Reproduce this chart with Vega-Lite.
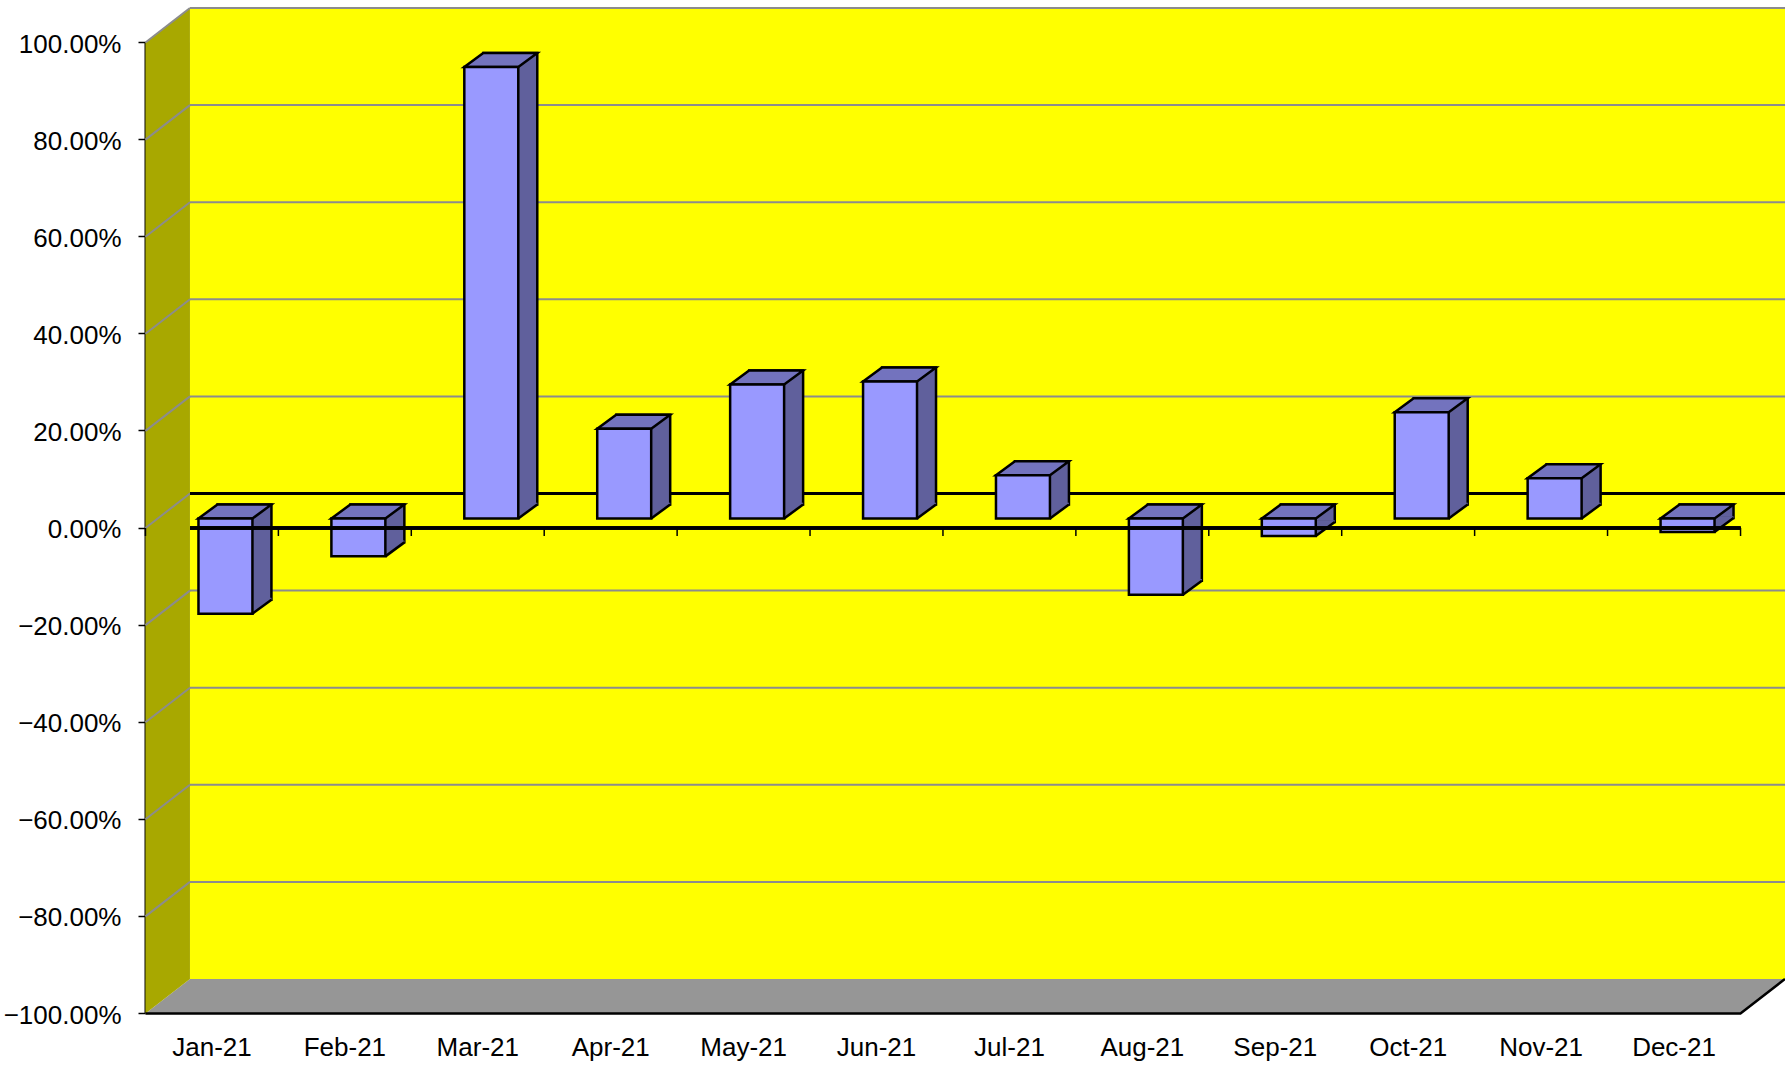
{
  "$schema": "https://vega.github.io/schema/vega-lite/v6.json",
  "autosize": {"type": "none"},
  "padding": {"left": 190, "top": 8, "right": 0, "bottom": 86},
  "width": 1595,
  "height": 971,
  "background": "#FFFFFF",
  "config": {
    "view": {"fill": "#FFFF00", "stroke": null},
    "axis": {"grid": false, "labelFont": "Liberation Sans", "labelFontSize": 26, "labelColor": "#000000", "labelOverlap": false},
    "axisX": {"domain": false, "ticks": false, "tickSize": 0, "labelPadding": 55, "labelOffset": -44.5, "labelAngle": 0, "labelBound": false},
    "axisY": {"offset": 79, "translate": 34.5, "tickSize": 7, "tickColor": "#000000", "tickWidth": 1.5, "domainColor": "#000000", "domainWidth": 2, "labelPadding": 17, "labelOffset": 2}
  },
  "datasets": {
    "returns": [
      {"month": "Jan-21", "value": -0.196},
      {"month": "Feb-21", "value": -0.078},
      {"month": "Mar-21", "value": 0.930},
      {"month": "Apr-21", "value": 0.185},
      {"month": "May-21", "value": 0.276},
      {"month": "Jun-21", "value": 0.282},
      {"month": "Jul-21", "value": 0.089},
      {"month": "Aug-21", "value": -0.157},
      {"month": "Sep-21", "value": -0.036},
      {"month": "Oct-21", "value": 0.219},
      {"month": "Nov-21", "value": 0.083},
      {"month": "Dec-21", "value": -0.028}
    ],
    "grid": [
      {"t": -0.8}, {"t": -0.6}, {"t": -0.4}, {"t": -0.2}, {"t": 0},
      {"t": 0.2}, {"t": 0.4}, {"t": 0.6}, {"t": 0.8}, {"t": 1}
    ]
  },
  "data": {"name": "returns"},
  "layer": [
    {
      "mark": {"type": "bar", "fill": "#9999FF", "stroke": "#000000", "strokeWidth": 2.5, "xOffset": -31, "x2Offset": -31, "yOffset": 25, "y2Offset": 25, "opacity": 0},
      "encoding": {
        "x": {
          "field": "month", "type": "nominal", "title": null,
          "scale": {"type": "band", "domain": ["Jan-21","Feb-21","Mar-21","Apr-21","May-21","Jun-21","Jul-21","Aug-21","Sep-21","Oct-21","Nov-21","Dec-21"], "paddingInner": 0.594, "paddingOuter": 0.297}
        },
        "y": {
          "field": "value", "type": "quantitative", "title": null,
          "scale": {"domain": [-1, 1], "nice": false, "zero": false},
          "axis": {"values": [-1, -0.8, -0.6, -0.4, -0.2, 0, 0.2, 0.4, 0.6, 0.8, 1], "format": ".2%"}
        },
        "y2": {"datum": 0}
      }
    },
    {
      "transform": [{"filter": "datum.month == 'Jan-21'"}],
      "mark": {"type": "point", "shape": "M-66.5,0L1528.5,0L1484,34.5L-111,34.5Z", "size": 4, "filled": true, "fill": "#969696", "strokeWidth": 0, "opacity": 1},
      "encoding": {
        "x": {"field": "month", "type": "nominal", "title": null},
        "y": {"datum": -1, "type": "quantitative", "title": null}
      }
    },
    {
      "transform": [{"filter": "datum.month == 'Jan-21'"}],
      "mark": {"type": "point", "shape": "M-111,-936.5L-66.5,-971L-66.5,0L-111,34.5Z", "size": 4, "filled": true, "fill": "#A8A800", "strokeWidth": 0, "opacity": 1},
      "encoding": {
        "x": {"field": "month", "type": "nominal", "title": null},
        "y": {"datum": -1, "type": "quantitative", "title": null}
      }
    },
    {
      "data": {"name": "grid"},
      "transform": [{"filter": "datum.t != 0"}],
      "mark": {"type": "rule", "stroke": "#8C8C8C", "strokeWidth": 2},
      "encoding": {
        "y": {"field": "t", "type": "quantitative", "title": null}
      }
    },
    {
      "data": {"name": "grid"},
      "mark": {"type": "point", "shape": "M-111,34.5L-66.5,0", "size": 4, "filled": false, "stroke": "#8C8C8C", "strokeWidth": 2, "opacity": 1},
      "encoding": {
        "x": {"datum": "Jan-21", "type": "nominal", "title": null},
        "y": {"field": "t", "type": "quantitative", "title": null}
      }
    },
    {
      "mark": {"type": "rule", "stroke": "#000000", "strokeWidth": 2.5},
      "encoding": {
        "y": {"datum": 0, "type": "quantitative", "title": null}
      }
    },
    {
      "mark": {"type": "bar", "fill": "#60609C", "stroke": "#000000", "strokeWidth": 2.5, "xOffset": -12, "x2Offset": -12, "yOffset": 11, "y2Offset": 11},
      "encoding": {
        "x": {"field": "month", "type": "nominal", "title": null},
        "y": {"field": "value", "type": "quantitative", "title": null},
        "y2": {"datum": 0}
      }
    },
    {
      "transform": [{"filter": "datum.value > 0"}],
      "encoding": {
        "x": {"field": "month", "type": "nominal", "title": null},
        "y": {"datum": 0, "type": "quantitative", "title": null}
      },
      "layer": [
        {"mark": {"type": "point", "shape": "M-4,25L15,11L15,9.2L-4,9.2Z", "size": 4, "filled": true, "fill": "#60609C", "strokeWidth": 0, "opacity": 1}},
        {"mark": {"type": "point", "shape": "M-4,25L15,11", "size": 4, "filled": false, "stroke": "#000000", "strokeWidth": 2.5, "opacity": 1}}
      ]
    },
    {
      "transform": [{"filter": "datum.value < 0"}],
      "encoding": {
        "x": {"field": "month", "type": "nominal", "title": null},
        "y": {"field": "value", "type": "quantitative", "title": null}
      },
      "layer": [
        {"mark": {"type": "point", "shape": "M-4,25L15,11L15,9.2L-4,9.2Z", "size": 4, "filled": true, "fill": "#60609C", "strokeWidth": 0, "opacity": 1}},
        {"mark": {"type": "point", "shape": "M-4,25L15,11", "size": 4, "filled": false, "stroke": "#000000", "strokeWidth": 2.5, "opacity": 1}}
      ]
    },
    {
      "transform": [{"filter": "datum.value > 0"}],
      "mark": {"type": "point", "shape": "M-58,25L-4,25L15,11L-39,11Z", "size": 4, "filled": true, "fill": "#7373BE", "stroke": "#000000", "strokeWidth": 2.5, "opacity": 1},
      "encoding": {
        "x": {"field": "month", "type": "nominal", "title": null},
        "y": {"field": "value", "type": "quantitative", "title": null}
      }
    },
    {
      "transform": [{"filter": "datum.value < 0"}],
      "mark": {"type": "point", "shape": "M-58,25L-4,25L15,11L-39,11Z", "size": 4, "filled": true, "fill": "#7373BE", "stroke": "#000000", "strokeWidth": 2.5, "opacity": 1},
      "encoding": {
        "x": {"field": "month", "type": "nominal", "title": null},
        "y": {"datum": 0, "type": "quantitative", "title": null}
      }
    },
    {
      "mark": {"type": "bar", "fill": "#9999FF", "stroke": "#000000", "strokeWidth": 2.5, "xOffset": -31, "x2Offset": -31, "yOffset": 25, "y2Offset": 25},
      "encoding": {
        "x": {"field": "month", "type": "nominal", "title": null},
        "y": {"field": "value", "type": "quantitative", "title": null},
        "y2": {"datum": 0}
      }
    },
    {
      "mark": {"type": "rule", "stroke": "#000000", "strokeWidth": 2.5, "xOffset": -44.5, "x2Offset": -44.5, "yOffset": 34.5, "y2Offset": 34.5},
      "encoding": {
        "y": {"datum": 0, "type": "quantitative", "title": null}
      }
    },
    {
      "mark": {"type": "rule", "stroke": "#000000", "strokeWidth": 1.5, "xOffset": -111, "yOffset": 34.5, "y2Offset": 42.5},
      "encoding": {
        "x": {"field": "month", "type": "nominal", "title": null},
        "y": {"datum": 0, "type": "quantitative", "title": null},
        "y2": {"datum": 0}
      }
    },
    {
      "transform": [{"filter": "datum.month == 'Dec-21'"}],
      "mark": {"type": "rule", "stroke": "#000000", "strokeWidth": 1.5, "xOffset": 22, "yOffset": 34.5, "y2Offset": 42.5},
      "encoding": {
        "x": {"field": "month", "type": "nominal", "title": null},
        "y": {"datum": 0, "type": "quantitative", "title": null},
        "y2": {"datum": 0}
      }
    },
    {
      "transform": [{"filter": "datum.month == 'Jan-21'"}],
      "mark": {"type": "point", "shape": "M-111,34.5L1484,34.5L1528.5,0", "size": 4, "filled": false, "stroke": "#000000", "strokeWidth": 2.5, "opacity": 1},
      "encoding": {
        "x": {"field": "month", "type": "nominal", "title": null},
        "y": {"datum": -1, "type": "quantitative", "title": null}
      }
    }
  ]
}
